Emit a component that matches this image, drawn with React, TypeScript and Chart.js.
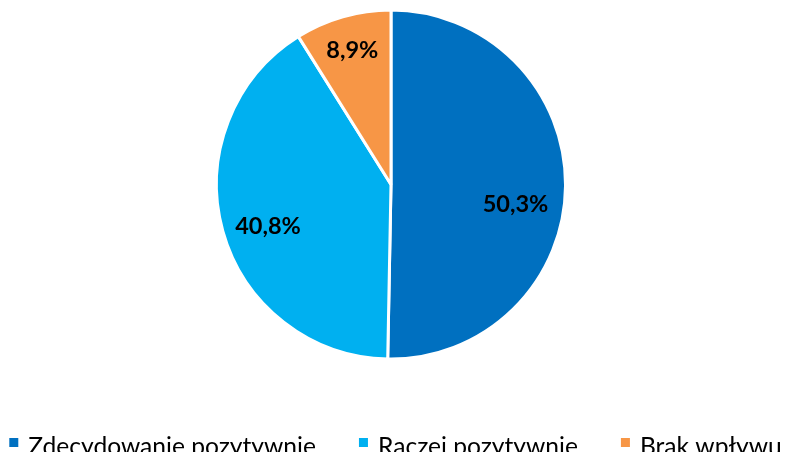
import React, { useEffect, useRef } from "react";
import { Chart, registerables } from "chart.js";

Chart.register(...registerables);

const categories = ["Zdecydowanie pozytywnie", "Raczej pozytywnie", "Brak wpływu"];
const values = [50.3, 40.8, 8.9];
const valueLabels = ["50,3%", "40,8%", "8,9%"];
const colors = ["#0070C0", "#00B0F0", "#F79646"];

const FONT = "Lato, 'Open Sans', sans-serif";

const sliceLabelPlugin = {
  id: "sliceLabels",
  afterDatasetsDraw(chart: any, _args: any, opts: any) {
    const ctx = chart.ctx;
    const meta = chart.getDatasetMeta(0);
    ctx.save();
    ctx.font = `bold ${opts.size}px ${FONT}`;
    ctx.fillStyle = "#000";
    ctx.textAlign = "center";
    ctx.textBaseline = "alphabetic";
    meta.data.forEach((arc: any, i: number) => {
      const p = arc.getProps(["x", "y", "startAngle", "endAngle", "outerRadius"], true);
      const place = opts.placement[i];
      const mid = (p.startAngle + p.endAngle) / 2 + (place.shift * Math.PI) / 180;
      const r = p.outerRadius * place.frac;
      const x = p.x + Math.cos(mid) * r;
      const y = p.y + Math.sin(mid) * r;
      ctx.fillText(valueLabels[i], x, y + opts.capHeight / 2);
    });
    ctx.restore();
  },
};

const rowLegendPlugin = {
  id: "rowLegend",
  afterDraw(chart: any, _args: any, opts: any) {
    const ctx = chart.ctx;
    ctx.save();
    ctx.font = `${opts.size}px ${FONT}`;
    const widths = categories.map((c) => ctx.measureText(c).width);
    const itemW = widths.map((w) => opts.box + opts.boxGap + w);
    const total = itemW.reduce((a, b) => a + b, 0) + opts.gap * (categories.length - 1);
    let x = opts.centerX - total / 2;
    categories.forEach((c, i) => {
      ctx.fillStyle = colors[i];
      ctx.fillRect(x, opts.boxTop, opts.box, opts.box);
      ctx.fillStyle = "#000";
      ctx.textAlign = "left";
      ctx.textBaseline = "alphabetic";
      ctx.fillText(c, x + opts.box + opts.boxGap, opts.baseline);
      x += itemW[i] + opts.gap;
    });
    ctx.restore();
  },
};

export default function App() {
  const ref = useRef<HTMLCanvasElement | null>(null);

  useEffect(() => {
    if (!ref.current) return;
    const chart = new Chart(ref.current, {
      type: "pie",
      data: {
        labels: categories,
        datasets: [
          {
            data: values,
            backgroundColor: colors,
            borderColor: "#ffffff",
            borderWidth: 3,
          },
        ],
      },
      options: {
        responsive: false,
        animation: false,
        layout: { padding: { top: 8.5, bottom: 91.5, left: 0, right: 3 } },
        plugins: {
          legend: { display: false },
          tooltip: { enabled: false },
          sliceLabels: {
            size: 23.5,
            capHeight: 17,
            placement: [
              { shift: 8.2, frac: 0.722 },
              { shift: -2.9, frac: 0.743 },
              { shift: 0, frac: 0.803 },
            ],
          },
          rowLegend: {
            size: 24.6,
            box: 9,
            boxGap: 10,
            gap: 43,
            centerX: 395.5,
            boxTop: 438,
            baseline: 455,
          },
        } as any,
      },
      plugins: [sliceLabelPlugin, rowLegendPlugin],
    });
    return () => chart.destroy();
  }, []);

  return (
    <div style={{ position: "fixed", left: 0, top: 0, width: 785, height: 452, background: "#fff" }}>
      <canvas ref={ref} width={785} height={452} style={{ display: "block" }} />
    </div>
  );
}
